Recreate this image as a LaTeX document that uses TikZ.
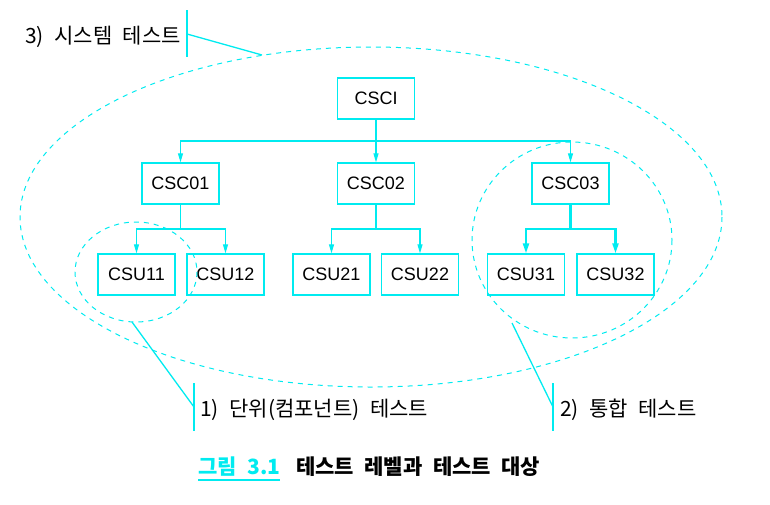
\documentclass[tikz,border=0pt]{standalone}
\usepackage{fontspec}
\setmainfont{Liberation Sans}
\newfontfamily\kr{Noto Sans CJK KR}
\usetikzlibrary{arrows.meta,calc}
\definecolor{cy}{RGB}{0,235,240}
\newcommand\wsp{\hspace{0.5em}}
\begin{document}
\begin{tikzpicture}[x=1pt,y=-1pt,
  box/.style={draw=cy,line width=1.3pt,minimum width=77pt,minimum height=41pt,inner sep=0pt,font=\fontsize{18}{18}\selectfont},
  conn/.style={draw=cy,line width=1.1pt},
  arr/.style={conn,-{Triangle[length=9pt,width=5pt]}},
  thick conn/.style={draw=cy,line width=2.2pt},
  tarr/.style={thick conn,-{Triangle[length=10pt,width=6pt]}},
  dsh/.style={draw=cy,line width=1pt,dash pattern=on 5pt off 5pt},
  lead/.style={draw=cy,line width=1.3pt},
  lbl/.style={font=\kr\fontsize{21}{21}\selectfont,inner sep=0pt}]
\useasboundingbox (0,0) rectangle (770,504);
% boxes
\node[box] (csci) at (376,98.5) {CSCI};
\node[box] (csc01) at (180.5,183.5) {CSC01};
\node[box] (csc02) at (376,183.5) {CSC02};
\node[box] (csc03) at (570.5,183.5) {CSC03};
\node[box] (csu11) at (136.5,274.5) {CSU11};
\node[box] (csu12) at (225.5,274.5) {CSU12};
\node[box] (csu21) at (331.5,274.5) {CSU21};
\node[box] (csu22) at (420,274.5) {CSU22};
\node[box] (csu31) at (526,274.5) {CSU31};
\node[box] (csu32) at (615.5,274.5) {CSU32};
% connectors
\coordinate (b0) at (376,141);
\draw[conn] (csci.south) -- (b0);
\draw[arr] (b0) -| (csc01.north);
\draw[arr] (b0) -- (csc02.north);
\draw[arr] (b0) -| (csc03.north);
\coordinate (b1) at (180.5,229);
\draw[conn] (csc01.south) -- (b1);
\draw[arr] (b1) -| (csu11.north);
\draw[arr] (b1) -| (csu12.north);
\coordinate (b2) at (376,229);
\draw[conn] (csc02.south) -- (b2);
\draw[arr] (b2) -| (csu21.north);
\draw[arr] (b2) -| (csu22.north);
\coordinate (b3) at (570.5,229);
\draw[thick conn] (csc03.south) -- (b3);
\draw[tarr] (b3) -| (csu31.north);
\draw[tarr] (b3) -| (csu32.north);
% dashed ellipses
\draw[dsh] (371,217) ellipse [x radius=351, y radius=170];
\draw[dsh] (136,272) ellipse [x radius=61, y radius=50];
\draw[dsh] (572,240) ellipse [x radius=100, y radius=98];
% leaders
\coordinate (e0) at (262,55);
\coordinate (t0) at (187,34);
\coordinate (t0a) at (187,10);
\coordinate (t0b) at (187,57);
\draw[lead] (t0a) -- (t0b);
\draw[lead] (e0) -- (t0);
\node[lbl,anchor=east] (l3) at (181,37) {3)\wsp 시스템\wsp 테스트};
\coordinate (e1) at (132,322);
\coordinate (t1) at (194,407);
\coordinate (t1a) at (194,383);
\coordinate (t1b) at (194,431);
\draw[lead] (t1a) -- (t1b);
\draw[lead] (e1) -- (t1);
\node[lbl,anchor=west] (l1) at (200,410) {1)\wsp 단위(컴포넌트)\wsp 테스트};
\coordinate (e2) at (512,323);
\coordinate (t2) at (553,407);
\coordinate (t2a) at (553,383);
\coordinate (t2b) at (553,431);
\draw[lead] (t2a) -- (t2b);
\draw[lead] (e2) -- (t2);
\node[lbl,anchor=west] (l2) at (560,410) {2)\wsp 통합\wsp 테스트};
% caption
\node[font=\kr\bfseries\fontsize{21}{21}\selectfont,text=cy,inner sep=0pt,anchor=west] (cap1) at (198,467) {그림\wsp 3.1};
\coordinate (u1) at ($(cap1.south west)+(0,3)$);
\coordinate (u2) at ($(cap1.south east)+(0,3)$);
\draw[cy,line width=1.4pt] (u1) -- (u2);
\node[font=\kr\bfseries\fontsize{21}{21}\selectfont,inner sep=0pt,anchor=west] (cap2) at (296,467) {테스트\wsp 레벨과\wsp 테스트\wsp 대상};
\end{tikzpicture}
\end{document}
